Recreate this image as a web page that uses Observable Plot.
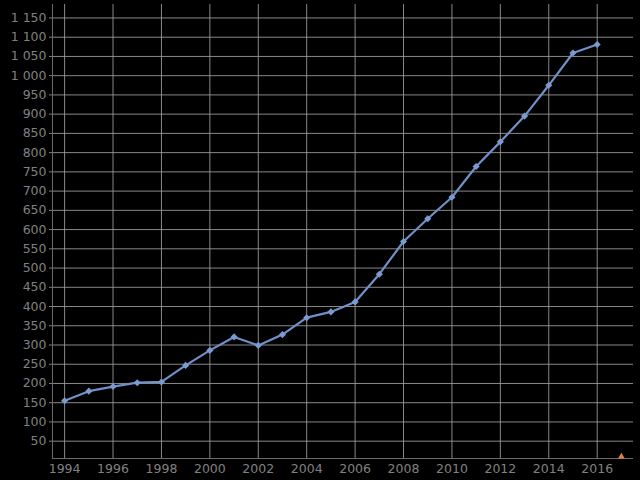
<!DOCTYPE html>
<html>
<head>
<meta charset="utf-8">
<script src="https://cdn.jsdelivr.net/npm/d3@7"></script>
<script src="https://cdn.jsdelivr.net/npm/@observablehq/plot@0.6"></script>
<style>
  html, body { margin: 0; padding: 0; background: #000; }
  #chart { width: 640px; height: 480px; }
</style>
</head>
<body>
<div id="chart"></div>
<script>
const years = [1994,1995,1996,1997,1998,1999,2000,2001,2002,2003,2004,2005,2006,2007,2008,2009,2010,2011,2012,2013,2014,2015,2016];
const values = [155,180,192,202,204,247,286,321,299,327,371,386,412,484,569,628,684,764,828,895,975,1059,1081];
const markerYears = [2017];
const markerValues = [10];
const xTicks = [1994,1996,1998,2000,2002,2004,2006,2008,2010,2012,2014,2016];
const yTicks = d3.range(50, 1151, 50);
const xDomain = [1993.5, 2017.5];
const yDomain = [5, 1185];

const data = years.map((y, i) => ({year: y, value: values[i]}));
const marker = markerYears.map((y, i) => ({year: y, value: markerValues[i]}));
const fmt = d3.formatLocale({thousands: " ", grouping: [3], decimal: ","}).format(",d");

const chart = Plot.plot({
  width: 640,
  height: 480,
  marginLeft: 52,
  marginRight: 7,
  marginTop: 4,
  marginBottom: 22,
  style: {background: "#000", color: "#808080", fontFamily: "DejaVu Sans", fontSize: "12.5px"},
  x: {domain: xDomain, ticks: xTicks, tickFormat: d => String(d), tickSize: 0, tickPadding: 6, label: null},
  y: {domain: yDomain, ticks: yTicks, tickFormat: fmt, tickSize: 3, tickPadding: 3, label: null},
  marks: [
    Plot.gridX(xTicks, {stroke: "#a0a0a0", strokeOpacity: 0.85}),
    Plot.gridY(yTicks, {stroke: "#a0a0a0", strokeOpacity: 0.85}),
    Plot.ruleX([xDomain[0]], {stroke: "#6a6a6a"}),
    Plot.ruleY([yDomain[0]], {stroke: "#6a6a6a"}),
    Plot.line(data, {x: "year", y: "value", stroke: "#7090c8", strokeWidth: 2.2}),
    Plot.dot(data, {x: "year", y: "value", symbol: "diamond2", r: 3.2, fill: "#7b9ad0", stroke: "none"}),
    Plot.dot(marker, {x: "year", y: "value", symbol: "triangle", r: 2.5, fill: "#e08040", stroke: "none"})
  ]
});
document.getElementById("chart").appendChild(chart);
</script>
</body>
</html>
